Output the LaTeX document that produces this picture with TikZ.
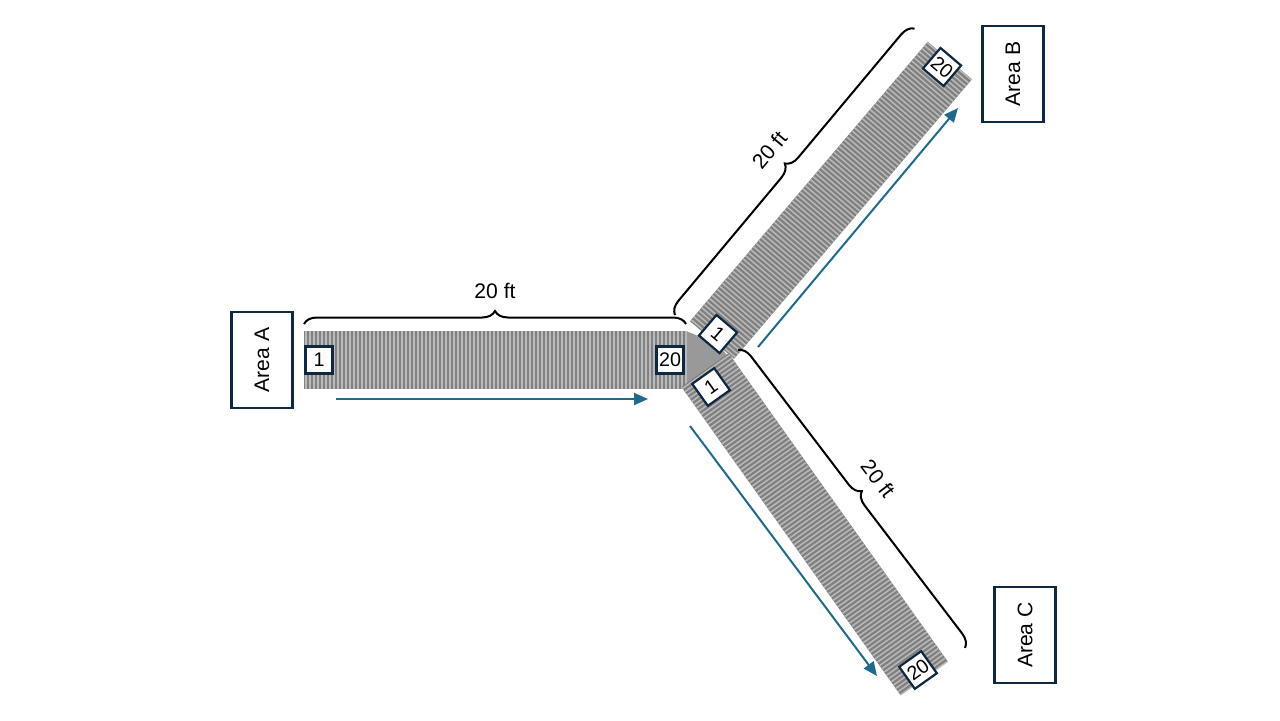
\documentclass[tikz,border=0pt]{standalone}
\usepackage{fontspec}
\setmainfont{Liberation Sans}
\usetikzlibrary{arrows.meta, decorations.pathreplacing}
\definecolor{navy}{HTML}{0E2841}
\definecolor{flow}{HTML}{1F6A8C}
\tikzset{
  areabox/.style={draw=navy, line width=0.25mm, minimum width=0.61cm, minimum height=0.96cm, inner sep=0pt, font=\fontsize{6}{7}\selectfont},
  numbox/.style={draw=navy, fill=white, line width=0.22mm, minimum size=0.27cm, inner sep=0.3pt, font=\fontsize{5.6}{6}\selectfont},
  flowarrow/.style={draw=flow, line width=0.2mm, -{Triangle[length=1.4mm, width=1.2mm]}},
  span/.style={decorate, decoration={brace, amplitude=0.13cm}, line width=0.2mm},
  spanlabel/.style={font=\fontsize{6}{7}\selectfont}
}
\begin{document}
\begin{tikzpicture}[x=0.01cm, y=0.01cm]
    \useasboundingbox (0,0) rectangle (1280,720);
    % junction patch
    \fill[gray!80] (686,331) -- (686,389) -- (718,376) -- (739,350) -- (712,330) -- (690,330) -- cycle;
    % strips: start x, start y, angle, length
    \foreach \sx/\sy/\ang/\len in {304/360/0/382, 712/380/49.6/367, 705/350/-54.6/378} {
      \begin{scope}[shift={(\sx,\sy)}, rotate=\ang]
        \fill[gray] (0,-29) rectangle (\len,29);
        \foreach \s in {2,6,...,\len}
          \draw[gray!55, line width=0.15mm] (\s,-29) -- (\s,29);
      \end{scope}
    }
    % area boxes
    \node[areabox] (areaA) at (262,360) {\rotatebox{90}{Area A}};
    \node[areabox] (areaB) at (1013,646) {\rotatebox{90}{Area B}};
    \node[areabox] (areaC) at (1025,85) {\rotatebox{90}{Area C}};
    % numbered cells
    \node[numbox] (a1) at (319,360) {1};
    \node[numbox] (a20) at (670,360) {20};
    \node[numbox, rotate=-40.4] (b1) at (718,386) {1};
    \node[numbox, rotate=-40.4] (b20) at (942,653) {20};
    \node[numbox, rotate=35.4] (c1) at (711,333) {1};
    \node[numbox, rotate=35.4] (c20) at (918,50) {20};
    % flow arrows
    \coordinate (fa0) at (336,321); \coordinate (fa1) at (648,321);
    \coordinate (fb0) at (758,373); \coordinate (fb1) at (958,612);
    \coordinate (fc0) at (690,294); \coordinate (fc1) at (877,44);
    \draw[flowarrow] (fa0) -- (fa1);
    \draw[flowarrow] (fb0) -- (fb1);
    \draw[flowarrow] (fc0) -- (fc1);
    % dimension braces
    \coordinate (da0) at (304,396); \coordinate (da1) at (686,396);
    \coordinate (db0) at (675,405); \coordinate (db1) at (915,692);
    \coordinate (dc0) at (738,370); \coordinate (dc1) at (965,72);
    \draw[span] (da0) -- node[spanlabel, above=0.13cm] {20 ft} (da1);
    \draw[span] (db0) -- node[spanlabel, above=0.13cm, sloped] {20 ft} (db1);
    \draw[span] (dc0) -- node[spanlabel, above=0.13cm, sloped] {20 ft} (dc1);
\end{tikzpicture}
\end{document}
